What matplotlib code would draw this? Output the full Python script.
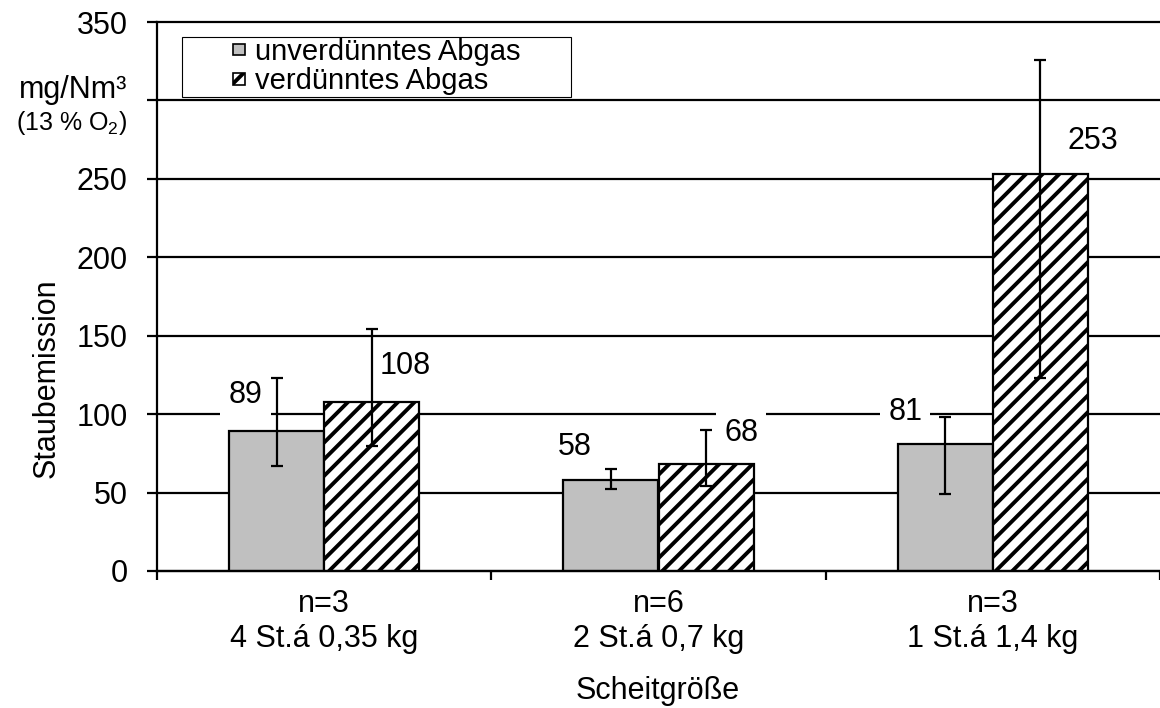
import numpy as np
import matplotlib
matplotlib.use("Agg")
import matplotlib.pyplot as plt
from matplotlib.patches import Patch, Rectangle

# data
categories = ["n=3\n4 St.á 0,35 kg", "n=6\n2 St.á 0,7 kg", "n=3\n1 St.á 1,4 kg"]
undiluted = [89, 58, 81]
undiluted_lo = [67, 52, 49]
undiluted_hi = [123, 65, 98]
diluted = [108, 68, 253]
diluted_lo = [80, 54, 123]
diluted_hi = [154, 90, 326]
y_ticks = [0, 50, 100, 150, 200, 250, 300, 350]
y_tick_labels = ["0", "50", "100", "150", "200", "250", "", "350"]
series_names = ["unverdünntes Abgas", "verdünntes Abgas"]

# label nudges (pixels) from the bar top centre
grey_nudge = [(-31, 36), (-36, 33), (-40, 32)]
hatch_nudge = [(33, 36), (35, 31), (52, 33)]

plt.rcParams['font.family'] = ['Liberation Sans', 'DejaVu Sans']
plt.rcParams['mathtext.fontset'] = 'custom'
plt.rcParams['mathtext.rm'] = 'Liberation Sans'
plt.rcParams['mathtext.it'] = 'Liberation Sans:italic'
plt.rcParams['hatch.linewidth'] = 2.8

W, H = 1160, 708
fig = plt.figure(figsize=(W / 100, H / 100), dpi=100)
ax = fig.add_axes([157 / W, (H - 571) / H, (W - 157) / W, (571 - 22) / H])

x = np.arange(len(categories))
w = 0.285
lw = 1.6

ax.bar(x - w / 2, undiluted, w, color='#C0C0C0', edgecolor='black', linewidth=lw, zorder=2)
ax.bar(x + w / 2, diluted, w, color='white', edgecolor='black', hatch='//', linewidth=lw, zorder=2)

u = np.array(undiluted)
d = np.array(diluted)
ax.errorbar(x - w / 2, u, yerr=[u - np.array(undiluted_lo), np.array(undiluted_hi) - u],
             fmt='none', ecolor='black', elinewidth=lw, capsize=4.5, capthick=lw, zorder=5)
ax.errorbar(x + w / 2, d, yerr=[d - np.array(diluted_lo), np.array(diluted_hi) - d],
             fmt='none', ecolor='black', elinewidth=lw, capsize=4.5, capthick=lw, zorder=5)

# value labels with white box over the grid
for i in range(len(categories)):
    for xi, v, nd in [(x[i] - w / 2, undiluted[i], grey_nudge[i]),
                      (x[i] + w / 2, diluted[i], hatch_nudge[i])]:
        ax.annotate(str(v), (xi, v), xytext=(nd[0] * 0.72, nd[1] * 0.72),
                    textcoords='offset points', ha='center', va='center', fontsize=22,
                    bbox=dict(facecolor='white', edgecolor='none', pad=6), zorder=4)

ax.set_xlim(-0.5, -0.5 + (W - 157) / 337)
ax.set_ylim(0, 350)
ax.set_yticks(y_ticks)
ax.set_yticklabels(y_tick_labels)
ax.set_xticks(x)
ax.set_xticklabels(categories)
ax.set_xticks([-0.5, 0.5, 1.5, 2.5], minor=True)
ax.tick_params(axis='x', which='major', length=0, labelsize=22, pad=13)
ax.tick_params(axis='x', which='minor', length=6.5, width=lw, direction='out')
ax.tick_params(axis='y', length=7, width=lw, direction='out', labelsize=22, pad=14)

ax.set_axisbelow(True)
ax.yaxis.grid(True, color='black', linewidth=lw)
for gl in ax.get_ygridlines():
    gl.set_clip_on(False)
for s in ['top', 'right']:
    ax.spines[s].set_visible(False)
for s in ['left', 'bottom']:
    ax.spines[s].set_linewidth(lw)

# unit text in place of the 300 tick label
fig.text(127 / W, 1 - 90 / H, "mg/Nm³", ha='right', va='center', fontsize=22)
fig.text(127 / W, 1 - 123 / H, "(13 % O$_2$)", ha='right', va='center', fontsize=18)

fig.text(47 / W, 1 - 378 / H, "Staubemission", rotation=90, ha='center', va='center', fontsize=22)
fig.text(658 / W, 1 - 691 / H, "Scheitgröße", ha='center', va='center', fontsize=22)

# legend with a wide Excel-like box
box = Rectangle((182 / W, 1 - 97 / H), (571 - 182) / W, 60 / H, transform=fig.transFigure,
                facecolor='white', edgecolor='black', linewidth=0.8, zorder=5)
fig.add_artist(box)
handles = [Patch(facecolor='#C0C0C0', edgecolor='black', linewidth=1.2),
           Patch(facecolor='white', edgecolor='black', hatch='//', linewidth=1.2)]
leg = fig.legend(handles, series_names, loc='upper left', bbox_to_anchor=(233 / W, 1 - 38 / H),
                 bbox_transform=fig.transFigure, frameon=False, fontsize=21,
                 handlelength=0.42, handleheight=0.25, handletextpad=0.35,
                 labelspacing=0.05, borderpad=0, borderaxespad=0)
leg.set_zorder(6)

fig.savefig("out.png", dpi=100)
